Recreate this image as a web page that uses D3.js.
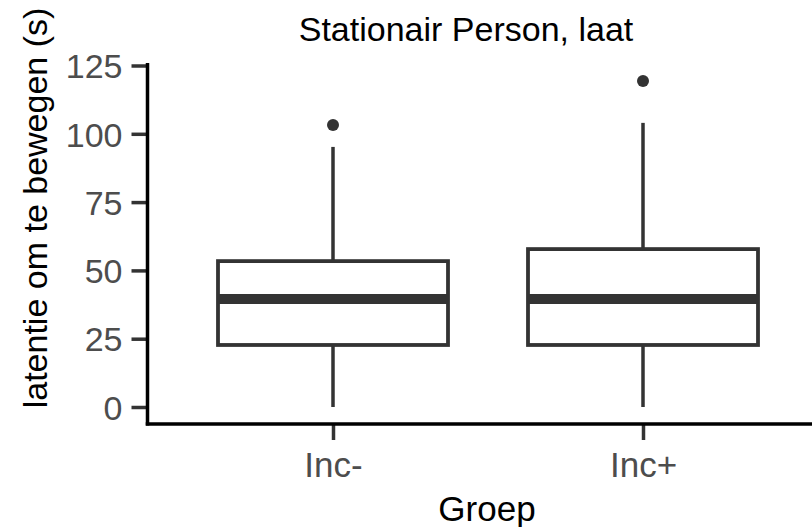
<!DOCTYPE html>
<html>
<head>
<meta charset="utf-8">
<script src="https://cdn.jsdelivr.net/npm/d3@7"></script>
<style>
	body { margin: 0; background: #fff; }
	svg { display: block; font-family: "Liberation Sans", Arial, sans-serif; }
</style>
</head>
<body>
<div id="chart"></div>
<script>
"use strict";

// data
const groups = ["Inc-", "Inc+"];
const lowerWhisker = [0, 0];
const q1 = [22.7, 22.7];
const median = [39.5, 39.5];
const q3 = [53.4, 57.8];
const upperWhisker = [95.2, 104];
const outliers = [[103.2], [119.3]];
const yTicks = [0, 25, 50, 75, 100, 125];

const w = 812;
const h = 527;
const ink = "#333333";

const svg = d3.select("#chart")
	.append("svg")
	.attr("width", w)
	.attr("height", h);

const x = d3.scalePoint()
	.domain(groups)
	.range([333, 643]);

const y = d3.scaleLinear()
	.domain([0, 125])
	.range([407, 65.5]);

const boxHalf = 115;

// y axis
const yAxis = svg.append("g")
	.attr("transform", "translate(147.5,0)")
	.call(d3.axisLeft(y).tickValues(yTicks).tickSize(16).tickPadding(9));
yAxis.select(".domain").remove();
yAxis.selectAll(".tick line").attr("stroke", ink).attr("stroke-width", 3.5);
yAxis.selectAll(".tick text")
	.attr("fill", "#4d4d4d")
	.attr("font-size", 34)
	.attr("font-family", "Liberation Sans, Arial, sans-serif")
	.attr("dy", "0.36em");

// x axis
const xAxis = svg.append("g")
	.attr("transform", "translate(0,424)")
	.call(d3.axisBottom(x).tickSize(16).tickPadding(12));
xAxis.select(".domain").remove();
xAxis.selectAll(".tick line").attr("stroke", ink).attr("stroke-width", 3.5);
xAxis.selectAll(".tick text")
	.attr("fill", "#4d4d4d")
	.attr("font-size", 35)
	.attr("font-family", "Liberation Sans, Arial, sans-serif");

// axis lines
svg.append("line")
	.attr("x1", 147.5).attr("x2", 147.5)
	.attr("y1", 63).attr("y2", 425.5)
	.attr("stroke", "#000").attr("stroke-width", 3.5);
svg.append("line")
	.attr("x1", 145.75).attr("x2", w)
	.attr("y1", 424).attr("y2", 424)
	.attr("stroke", "#000").attr("stroke-width", 3.5);

// boxes
const boxes = svg.append("g")
	.selectAll("g")
	.data(groups)
	.enter()
	.append("g");

// whiskers
boxes.append("line")
	.attr("x1", (d) => x(d)).attr("x2", (d) => x(d))
	.attr("y1", (d, i) => y(upperWhisker[i]))
	.attr("y2", (d, i) => y(q3[i]))
	.attr("stroke", ink).attr("stroke-width", 3.5);
boxes.append("line")
	.attr("x1", (d) => x(d)).attr("x2", (d) => x(d))
	.attr("y1", (d, i) => y(q1[i]))
	.attr("y2", (d, i) => y(lowerWhisker[i]))
	.attr("stroke", ink).attr("stroke-width", 3.5);

boxes.append("rect")
	.attr("x", (d) => x(d) - boxHalf)
	.attr("y", (d, i) => y(q3[i]))
	.attr("width", boxHalf * 2)
	.attr("height", (d, i) => y(q1[i]) - y(q3[i]))
	.attr("fill", "#fff")
	.attr("stroke", ink).attr("stroke-width", 3.8);

boxes.append("line")
	.attr("x1", (d) => x(d) - boxHalf).attr("x2", (d) => x(d) + boxHalf)
	.attr("y1", (d, i) => y(median[i]))
	.attr("y2", (d, i) => y(median[i]))
	.attr("stroke", ink).attr("stroke-width", 10);

// outliers
boxes.selectAll("circle")
	.data((d, i) => outliers[i].map((v) => ({ g: d, v: v })))
	.enter()
	.append("circle")
	.attr("cx", (d) => x(d.g))
	.attr("cy", (d) => y(d.v))
	.attr("r", 6)
	.attr("fill", ink);

// titles
svg.append("text")
	.attr("x", 466).attr("y", 41)
	.attr("text-anchor", "middle")
	.attr("font-size", 34)
	.attr("fill", "#000")
	.text("Stationair Person, laat");

svg.append("text")
	.attr("x", 487).attr("y", 521)
	.attr("text-anchor", "middle")
	.attr("font-size", 35)
	.attr("fill", "#000")
	.text("Groep");

svg.append("text")
	.attr("transform", "translate(47,208) rotate(-90)")
	.attr("text-anchor", "middle")
	.attr("font-size", 34)
	.attr("fill", "#000")
	.text("latentie om te bewegen (s)");
</script>
</body>
</html>
